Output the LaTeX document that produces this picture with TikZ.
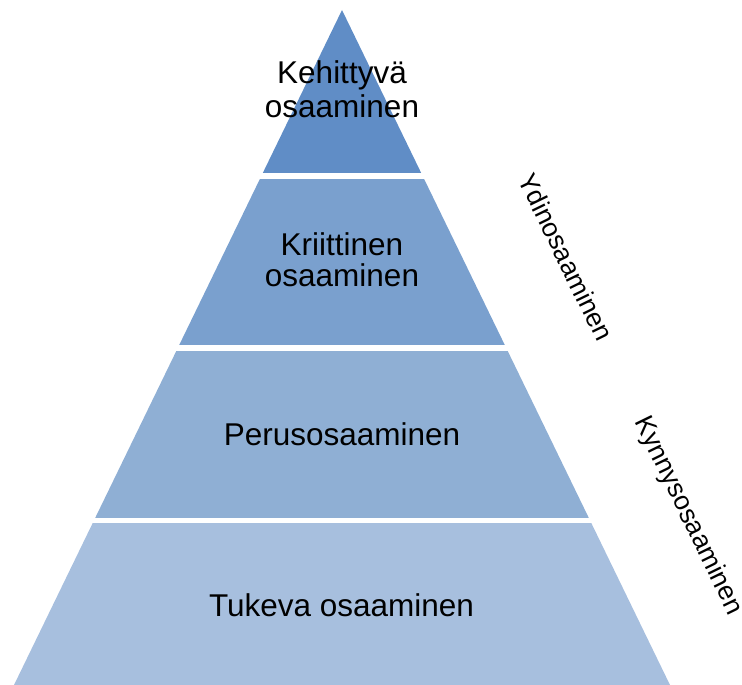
\documentclass[tikz,border=0pt]{standalone}
\usepackage{fontspec}
\setmainfont{Liberation Sans}
\usepackage{tikz}
\definecolor{layerA}{RGB}{96,141,198}
\definecolor{layerB}{RGB}{122,160,206}
\definecolor{layerC}{RGB}{143,175,212}
\definecolor{layerD}{RGB}{167,191,222}

\begin{document}
\begin{tikzpicture}
[x=1pt,y=-1pt]
  \tikzstyle{every node}=[text=black,align=center,font=\fontsize{31.5}{31}\selectfont]
  \tikzstyle{side label}=[rotate=-64,font=\fontsize{26.5}{30}\selectfont]

  \useasboundingbox (0,0) rectangle (742,685);
  \begin{scope}
    \clip (342,10) -- (670,685) -- (14,685) -- cycle;
    \foreach \ytop/\ybot/\col in {0/173/layerA,179/345/layerB,351/518/layerC,523/685/layerD}
      \fill[\col] (0,\ytop) rectangle (742,\ybot);
  \end{scope}

  \node (kehittyva) at (342,89)    {Kehittyvä\\[3pt]osaaminen};
  \node (kriittinen) at (342,260)  {Kriittinen\\osaaminen};
  \node (perus) at (342,434.5)     {Perusosaaminen};
  \node (tukeva) at (341.5,605.5)  {Tukeva osaaminen};
  \node[side label] (ydin) at (566,257)   {Ydinosaaminen};
  \node[side label] (kynnys) at (688,516) {Kynnysosaaminen};
\end{tikzpicture}
\end{document}
